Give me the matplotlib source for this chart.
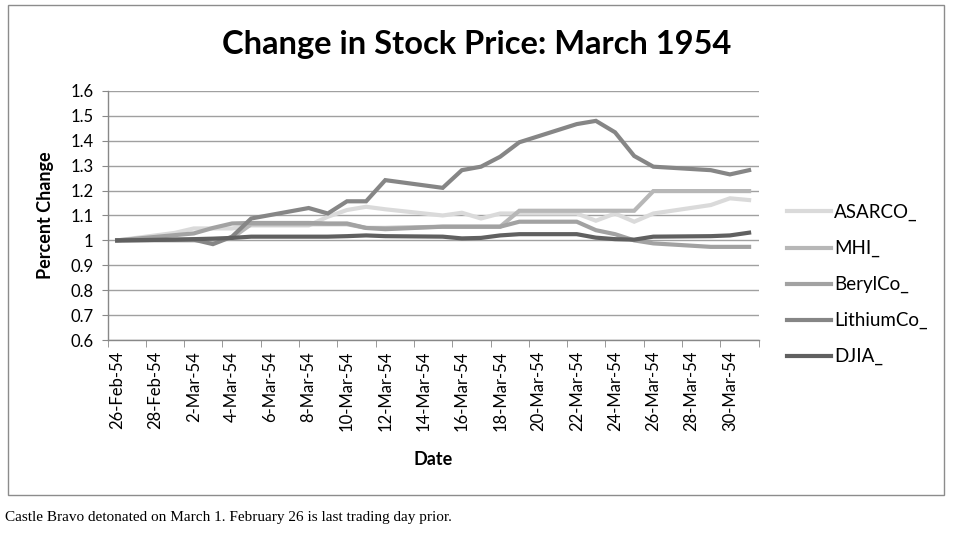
import numpy as np
import pandas as pd
import matplotlib
matplotlib.use('Agg')
import matplotlib.pyplot as plt
from matplotlib.patches import Rectangle

#%% Data (price relative to 26-Feb-54)
trade_dates = ['1954-02-26',
               '1954-03-01', '1954-03-02', '1954-03-03', '1954-03-04', '1954-03-05',
               '1954-03-08', '1954-03-09', '1954-03-10', '1954-03-11', '1954-03-12',
               '1954-03-15', '1954-03-16', '1954-03-17', '1954-03-18', '1954-03-19',
               '1954-03-22', '1954-03-23', '1954-03-24', '1954-03-25', '1954-03-26',
               '1954-03-29', '1954-03-30', '1954-03-31']

asarco = [1.000, 1.030, 1.048, 1.048, 1.048, 1.060, 1.060, 1.095, 1.122, 1.135, 1.125,
          1.100, 1.111, 1.088, 1.108, 1.108, 1.108, 1.079, 1.108, 1.075, 1.108,
          1.142, 1.169, 1.162]
mhi = [1.000, 1.000, 1.000, 1.000, 1.010, 1.065, 1.065, 1.065, 1.065, 1.050, 1.050,
       1.055, 1.055, 1.055, 1.055, 1.119, 1.119, 1.119, 1.119, 1.119, 1.198,
       1.198, 1.198, 1.198]
beryllco = [1.000, 1.021, 1.028, 1.050, 1.068, 1.070, 1.070, 1.068, 1.068, 1.050, 1.045,
            1.055, 1.055, 1.055, 1.055, 1.075, 1.075, 1.041, 1.025, 1.000, 0.988,
            0.974, 0.974, 0.974]
lithiumco = [1.000, 1.003, 1.003, 0.985, 1.015, 1.088, 1.130, 1.108, 1.157, 1.157, 1.242,
             1.211, 1.282, 1.296, 1.336, 1.394, 1.467, 1.480, 1.434, 1.339, 1.296,
             1.282, 1.265, 1.282]
djia = [1.000, 1.003, 1.005, 1.007, 1.010, 1.015, 1.015, 1.015, 1.017, 1.020, 1.017,
        1.015, 1.008, 1.010, 1.020, 1.025, 1.025, 1.011, 1.005, 1.003, 1.015,
        1.017, 1.020, 1.031]

series_names = ['ASARCO_', 'MHI_', 'BerylCo_', 'LithiumCo_', 'DJIA_']
series_colors = ['#dadada', '#b7b7b7', '#a2a2a2', '#868686', '#606060']

tick_labels = ['26-Feb-54', '28-Feb-54', '2-Mar-54', '4-Mar-54', '6-Mar-54',
               '8-Mar-54', '10-Mar-54', '12-Mar-54', '14-Mar-54', '16-Mar-54',
               '18-Mar-54', '20-Mar-54', '22-Mar-54', '24-Mar-54', '26-Mar-54',
               '28-Mar-54', '30-Mar-54']

#%% Date axis as day offsets from the first day
start = pd.Timestamp('1954-02-26')
days = (pd.to_datetime(trade_dates) - start).days.values
n_days = 34

FONT = 'Lato'

fig = plt.figure(figsize=(9.59, 5.33), dpi=100)
ax = fig.add_axes([0.1122, 0.3621, 0.6789, 0.4672])

all_series = [asarco, mhi, beryllco, lithiumco, djia]
for vals, name, col in zip(all_series, series_names, series_colors):
    ax.plot(days, vals, color=col, lw=3.0, label=name, solid_joinstyle='miter')

ax.set_xlim(-0.5, n_days - 0.5)
ax.set_ylim(0.6, 1.6)
ax.set_yticks(np.arange(0.6, 1.61, 0.1))
ax.set_yticklabels(['0.6', '0.7', '0.8', '0.9', '1', '1.1', '1.2', '1.3', '1.4', '1.5', '1.6'])
ax.yaxis.grid(True, color='#a0a0a0', lw=1.0)
ax.set_axisbelow(True)

ax.set_xticks(np.arange(0, n_days, 2))
ax.set_xticklabels(tick_labels, rotation=90)
ax.set_xticks(np.arange(-0.5, n_days, 2), minor=True)
ax.tick_params(axis='x', which='major', length=0, pad=8)
ax.tick_params(axis='x', which='minor', length=5, color='#888888', direction='out')
ax.tick_params(axis='y', length=4, color='#888888', direction='out', pad=6)
ax.tick_params(labelsize=12)
for lbl in ax.get_xticklabels() + ax.get_yticklabels():
    lbl.set_fontfamily(FONT)

for s in ['top', 'right']:
    ax.spines[s].set_visible(False)
for s in ['left', 'bottom']:
    ax.spines[s].set_color('#888888')
    ax.spines[s].set_linewidth(1.0)

ax.set_xlabel('Date', fontsize=13, fontweight='bold', family=FONT, labelpad=14)
ax.set_ylabel('Percent Change', fontsize=13, fontweight='bold', family=FONT, labelpad=12)
fig.text(476.5 / 959, 1 - 45 / 533, 'Change in Stock Price: March 1954', fontsize=23.5,
         fontweight='bold', family=FONT, ha='center', va='center')

leg = ax.legend(loc='center left', bbox_to_anchor=(1.018, 0.222), frameon=False,
                prop={'family': FONT, 'size': 13.5}, handlelength=2.35,
                handletextpad=0.15, labelspacing=1.0)

# chart border
fig.patches.append(Rectangle((8 / 959, 1 - 495 / 533), 936 / 959, 490 / 533,
                             transform=fig.transFigure, fill=False,
                             edgecolor='#8c8c8c', lw=1.0))

fig.text(5 / 959, 1 - 518 / 533, 'Castle Bravo detonated on March 1. February 26 is last trading day prior.',
         family='Liberation Serif', fontsize=11, va='center', ha='left')

fig.savefig('out.png', dpi=100)
